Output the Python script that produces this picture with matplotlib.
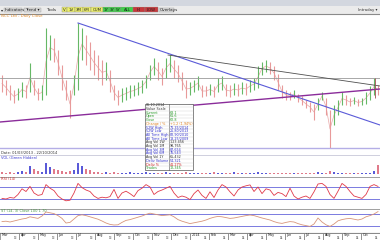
import numpy as np
import matplotlib
matplotlib.use("Agg")
import matplotlib.pyplot as plt
from matplotlib.patches import Rectangle

W, H = 380, 240

# price bars (high / low), one entry per bar
highs = [75, 70, 65, 60, 62, 68, 65, 87, 70, 62,
         65, 122, 115, 112, 100, 85, 70, 60, 75, 127,
         122, 115, 108, 100, 95, 90, 88, 80, 65, 60,
         62, 63, 65, 65, 68, 70, 75, 85, 92, 88,
         82, 92, 95, 90, 85, 78, 70, 68, 70, 74,
         65, 64, 66, 64, 72, 74, 66, 65, 67, 66,
         68, 67, 70, 72, 84, 88, 90, 88, 84, 76,
         65, 60, 58, 60, 56, 54, 50, 48, 46, 52,
         58, 52, 40, 45, 50, 58, 55, 52, 53, 51,
         52, 58, 64, 72, 65]
lows = [58, 55, 50, 47, 50, 53, 52, 58, 55, 50,
        50, 55, 90, 88, 75, 60, 50, 32, 55, 60,
        90, 85, 80, 75, 70, 65, 70, 58, 50, 45,
        48, 50, 52, 54, 55, 57, 62, 70, 75, 70,
        65, 72, 78, 72, 68, 60, 52, 55, 58, 60,
        53, 54, 55, 53, 58, 60, 54, 53, 55, 54,
        56, 55, 58, 60, 62, 75, 78, 76, 70, 60,
        52, 50, 50, 52, 48, 45, 42, 38, 30, 40,
        50, 35, 2, 25, 35, 45, 45, 44, 46, 44,
        45, 46, 50, 55, 55]
volume = [2, 1, 2, 1, 2, 3, 2, 8, 5, 3,
          2, 11, 7, 5, 4, 3, 2, 3, 4, 11,
          8, 5, 4, 2, 2, 1, 2, 1, 2, 1,
          1, 1, 2, 1, 1, 1, 2, 1, 1, 1,
          1, 2, 1, 1, 1, 1, 2, 1, 1, 1,
          1, 1, 1, 2, 1, 1, 1, 1, 2, 1,
          1, 1, 1, 1, 2, 1, 1, 1, 1, 1,
          1, 1, 1, 1, 1, 1, 1, 1, 1, 2,
          1, 1, 3, 2, 1, 1, 1, 1, 1, 1,
          1, 1, 1, 3, 9]
rsi = [32, 30, 35, 33, 45, 64, 55, 72, 50, 42,
       45, 78, 66, 58, 40, 30, 24, 26, 50, 82,
       68, 60, 55, 40, 32, 36, 34, 38, 62, 32,
       50, 56, 48, 38, 58, 66, 78, 70, 45, 55,
       60, 66, 72, 50, 35, 40, 36, 28, 48, 60,
       42, 32, 54, 35, 60, 78, 70, 54, 40, 60,
       70, 74, 77, 55, 70, 48, 64, 60, 42, 52,
       48, 38, 66, 40, 30, 36, 40, 32, 54, 80,
       82, 72, 45, 32, 56, 82, 72, 55, 40, 36,
       32, 45, 72, 78, 72]
stoch = [42, 44, 40, 45, 50, 55, 58, 66, 62, 58,
         70, 90, 86, 82, 72, 58, 35, 38, 55, 72,
         76, 72, 66, 60, 54, 45, 35, 28, 25, 26,
         38, 48, 52, 58, 64, 70, 78, 84, 80, 76,
         72, 74, 76, 66, 52, 44, 38, 32, 36, 40,
         44, 50, 58, 64, 68, 66, 62, 58, 60, 64,
         68, 72, 75, 72, 66, 60, 55, 50, 42, 36,
         33, 38, 42, 40, 32, 26, 22, 18, 30, 60,
         40, 26, 18, 30, 46, 52, 56, 58, 54, 50,
         55, 66, 72, 80, 92]

# trend lines drawn on the price panel: (bar0, price0, bar1, price1)
trend_blue = (19, 127, 94.5, 25)
trend_grey = (41.5, 95, 94.5, 64)
trend_purple = (-0.5, 28, 94.5, 61)
level_grey = 72
level_lav = 2

months = ["Mar", "Apr", "May", "Jun", "Jul", "Aug", "Sep", "Oct", "Nov", "Dec",
          "2014", "Feb", "Mar", "Apr", "May", "Jun", "Jul", "Aug", "Sep", "Oct"]
years = ["13"] * 10 + ["14"] * 10

info_rows = [("06.10.2014", "", "#333333"),
             ("Value Scale", "", "#333333"),
             ("Current", "63.1", "#2a9a2a"),
             ("Open", "61.6", "#2a9a2a"),
             ("Close", "62.8", "#2a9a2a"),
             ("Change / %", "+1.2 (1.94%)", "#e08020"),
             ("52W High", "71.35/2014", "#3333cc"),
             ("52W Low", "25.80/2013", "#3333cc"),
             ("All Time High", "82.90/2010", "#3333cc"),
             ("All Time Low", "18.25/2009", "#3333cc"),
             ("Avg Vol 1W", "1,23,456", "#333333"),
             ("Avg Vol 1M", "98,765", "#333333"),
             ("Avg Vol 3M", "87,654", "#3333cc"),
             ("Avg Vol 6M", "76,543", "#3333cc"),
             ("Avg Vol 1Y", "65,432", "#333333"),
             ("Deliv Volume", "54,321", "#3333cc"),
             ("Deliv %", "41.27%", "#cc2222"),
             ("Trades", "12,345", "#2a9a2a")]

n = len(highs)
x = np.arange(n)
xlim = (-0.5, n - 0.5)

fig = plt.figure(figsize=(W / 100, H / 100), dpi=100)
fig.patch.set_facecolor("white")


def px_axes(x0, y0, x1, y1, z=1):
    ax = fig.add_axes([x0 / W, 1 - y1 / H, (x1 - x0) / W, (y1 - y0) / H], zorder=z)
    ax.patch.set_alpha(0)
    ax.set_xticks([])
    ax.set_yticks([])
    for s in ax.spines.values():
        s.set_visible(False)
    return ax


# background / chrome in pixel coordinates
bg = px_axes(0, 0, W, H, z=0)
bg.set_xlim(0, W)
bg.set_ylim(H, 0)
bg.add_patch(Rectangle((0, 0), W, 6, color="#d3d7df", lw=0))
bg.add_patch(Rectangle((0, 6), W, 7.5, color="#ebebeb", lw=0))
bg.plot([0, W], [13.6, 13.6], color="#8a8a8a", lw=0.8)
tb = dict(fontsize=3.0, va="center", color="#222222")
bg.add_patch(Rectangle((4, 7.5), 18, 4.5, fc="#d8d8d8", ec="#a0a0a0", lw=0.3))
bg.text(5, 9.8, "Indicators", **tb)
bg.add_patch(Rectangle((24, 7.5), 17, 4.5, fc="#d8d8d8", ec="#a0a0a0", lw=0.3))
bg.text(25, 9.8, "Trend \u25be", **tb)
bg.text(46, 9.8, "Tools", **tb)
bg.text(0.5, 9.8, "\u25be", **tb)
buttons = [("V", 62, 67, "#eef06a"), ("1V", 67, 75, "#eef06a"), ("3M", 75, 83, "#eef06a"),
           ("6M", 83, 91, "#eef06a"), ("CUM", 91, 103, "#eef06a"),
           ("1Y", 103, 109, "#3ed24a"), ("3Y", 109, 115, "#3ed24a"), ("5Y", 115, 121, "#3ed24a"),
           ("ALL", 121, 133, "#3ed24a"), ("HI", 133, 145, "#c8383c"), ("LOW", 145, 158, "#c8383c")]
for lab, a, b, c in buttons:
    bg.add_patch(Rectangle((a, 7.3), b - a, 5, fc=c, ec="#888888", lw=0.3))
    bg.text((a + b) / 2, 9.8, lab, ha="center", va="center", fontsize=2.8, color="#222222")
bg.add_patch(Rectangle((159, 7.5), 15, 4.5, fc="#d8d8d8", ec="#a0a0a0", lw=0.3))
bg.text(160, 9.8, "Overlays", **tb)
bg.text(378, 10.5, "Intraday \u25be", fontsize=2.8, ha="right", va="center", color="#333333")
bg.text(1, 16.5, "NCC Ltd - Daily Close", fontsize=2.8, va="center", color="#e08a2a")
bg.plot([0, W], [155, 155], color="#c8c8d8", lw=0.6)
bg.text(1, 152.5, "Date: 01/03/2013 - 22/10/2014", fontsize=2.6, va="center", color="#333333")
bg.text(1, 158, "VOL (Green Hidden)", fontsize=2.6, va="center", color="#3a3ad0")
bg.plot([0, W], [176.5, 176.5], color="#909090", lw=0.6)
bg.text(1, 179.5, "RSI (14)", fontsize=2.6, va="center", color="#d03030")
bg.plot([0, W], [208.5, 208.5], color="#909090", lw=0.6)
bg.text(1, 211, "ST (14, 3) Close 100 1 70", fontsize=2.6, va="center", color="#4a9a4a")
bg.plot([0, W], [232.5, 232.5], color="#606060", lw=0.8)

# price panel
ax = px_axes(0, 14, W, 150)
ax.set_xlim(*xlim)
ax.set_ylim(0, 136)
mids = [(h + l) / 2 for h, l in zip(highs, lows)]
cols = ["#66b866" if i > 0 and mids[i] > mids[i - 1] else "#e89a9a" for i in range(n)]
ax.plot(x, mids, color="#e8a8a8", lw=0.5)
ax.vlines(x, lows, highs, colors=cols, lw=0.8)
ax.axhline(level_grey, color="#9a9a9a", lw=0.6)
ax.axhline(level_lav, color="#b4aee6", lw=1.0)
for (a0, p0, a1, p1), c, w in [(trend_blue, "#5a5ad8", 0.8),
                               (trend_grey, "#505050", 0.6),
                               (trend_purple, "#8a2c9a", 1.0)]:
    ax.plot([a0, a1], [p0, p1], color=c, lw=w)
ax.vlines(93.2, 52, 72, colors="#a05050", lw=0.6)

# volume panel
axv = px_axes(0, 155, W, 176)
axv.set_xlim(*xlim)
axv.set_ylim(-2, 19)
vcols = ["#5a5ad8" if c == "#66b866" else "#e07a8a" for c in cols]
axv.bar(x, volume, width=0.5, color=vcols)

# RSI panel
axr = px_axes(0, 176, W, 208)
axr.set_xlim(*xlim)
axr.set_ylim(0, 106.7)
axr.axhline(70, color="#7a7ae0", lw=0.7)
axr.axhline(30, color="#7a7ae0", lw=0.7)
axr.plot(x, rsi, color="#e03a4a", lw=0.6)

# stochastic panel
axs = px_axes(0, 208, W, 232)
axs.set_xlim(*xlim)
axs.set_ylim(-10, 110)
axs.axhline(80, color="#7a7ae0", lw=0.7)
axs.axhline(20, color="#7a7ae0", lw=0.7)
axs.plot(x, stoch, color="#d8957a", lw=0.6)

# date axis boxes
axd = px_axes(0, 232.5, W, 240)
axd.set_xlim(*xlim)
axd.set_ylim(1, 0)
step = n / len(months)
for i, (m, yr) in enumerate(zip(months, years)):
    a = -0.5 + i * step
    axd.add_patch(Rectangle((a, 0.05), step, 0.95, fc="white", ec="#7a7a7a", lw=0.5))
    axd.text(a + 0.4, 0.35, m, fontsize=2.4, va="center", color="#222222")
    axd.text(a + step - 0.5, 0.78, yr, fontsize=2.0, ha="right", va="center", color="#444444")

# info box overlay
top = px_axes(0, 0, W, H, z=5)
top.set_xlim(0, W)
top.set_ylim(H, 0)
bx0, bx1, bmid, by0 = 145, 193, 169, 103.5
rh = 3.7
top.add_patch(Rectangle((bx0, by0), bx1 - bx0, rh * len(info_rows), fc="white", ec="#555555", lw=0.5))
top.plot([bmid, bmid], [by0, by0 + rh * len(info_rows)], color="#555555", lw=0.4)
for k, (lab, val, c) in enumerate(info_rows):
    yy = by0 + rh * (k + 0.5)
    if k > 0:
        top.plot([bx0, bx1], [by0 + rh * k, by0 + rh * k], color="#cfcfcf", lw=0.3)
    top.text(bx0 + 1, yy, lab, fontsize=2.4, va="center", color=c)
    top.text(bmid + 1, yy, val, fontsize=2.4, va="center", color=c)

fig.savefig("out.png", dpi=100)
